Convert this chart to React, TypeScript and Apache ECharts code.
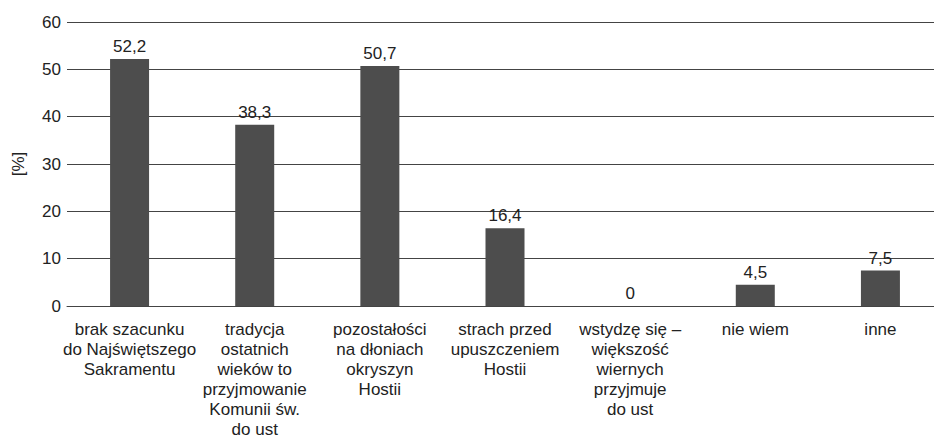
import React, { useEffect, useRef } from "react";
import * as echarts from "echarts";

const categories = [
  "brak szacunku\ndo Najświętszego\nSakramentu",
  "tradycja\nostatnich\nwieków to\nprzyjmowanie\nKomunii św.\ndo ust",
  "pozostałości\nna dłoniach\nokryszyn\nHostii",
  "strach przed\nupuszczeniem\nHostii",
  "wstydzę się –\nwiększość\nwiernych\nprzyjmuje\ndo ust",
  "nie wiem",
  "inne",
];
const values = [52.2, 38.3, 50.7, 16.4, 0, 4.5, 7.5];
const yTicks = { min: 0, max: 60, interval: 10 };
const yAxisName = "[%]";

const FONT = "'Liberation Sans', Arial, sans-serif";
const TEXT = "#222222";

export default function App() {
  const ref = useRef<HTMLDivElement>(null);
  useEffect(() => {
    if (!ref.current) return;
    const chart = echarts.init(ref.current, null, { renderer: "svg" });
    chart.setOption({
      animation: false,
      backgroundColor: "#ffffff",
      grid: {
        left: 67,
        top: 22,
        width: 876,
        height: 284,
        containLabel: false,
        outerBoundsMode: "none",
      },
      xAxis: {
        type: "category",
        data: categories,
        axisLine: { show: true, lineStyle: { color: "#444", width: 1 } },
        axisTick: { show: false },
        axisLabel: {
          interval: 0,
          margin: 13,
          color: TEXT,
          fontFamily: FONT,
          fontSize: 17,
          lineHeight: 20,
          align: "center",
        },
      },
      yAxis: {
        type: "value",
        min: yTicks.min,
        max: yTicks.max,
        interval: yTicks.interval,
        name: yAxisName,
        nameLocation: "middle",
        nameRotate: 90,
        nameGap: 40,
        nameTextStyle: { color: TEXT, fontFamily: FONT, fontSize: 17 },
        axisLine: { show: false },
        axisTick: { show: false },
        axisLabel: { margin: 6, color: TEXT, fontFamily: FONT, fontSize: 17 },
        splitLine: { show: true, lineStyle: { color: "#444", width: 1 } },
      },
      series: [
        {
          type: "bar",
          data: values,
          barWidth: 39,
          itemStyle: { color: "#4d4d4d" },
          label: {
            show: true,
            position: "top",
            distance: 4,
            color: TEXT,
            fontFamily: FONT,
            fontSize: 17,
            formatter: (p: any) => String(p.value).replace(".", ","),
          },
        },
      ],
    });
    return () => chart.dispose();
  }, []);
  return (
    <div
      ref={ref}
      style={{ position: "fixed", left: 0, top: 0, width: 934, height: 441, background: "#fff" }}
    />
  );
}
